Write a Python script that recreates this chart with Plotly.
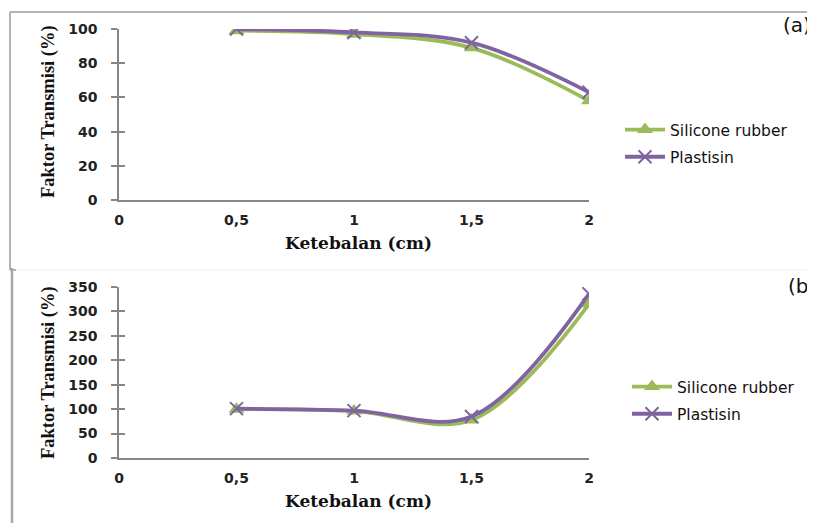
import plotly.graph_objects as go

# The page body adds an 8px margin, so the figure is sized to fill the
# remaining window and all screen positions are converted with that offset.
OFF = 8
W, H = 815 - OFF, 523 - OFF

# ---- data ----
thickness = [0.5, 1, 1.5, 2]
x_tick_vals = [0, 0.5, 1, 1.5, 2]
x_tick_text = ["0", "0,5", "1", "1,5", "2"]

a_silicone = [99, 97, 89, 58]
a_plastisin = [100, 98, 92, 63]
b_silicone = [100, 96, 78, 315]
b_plastisin = [101, 97, 85, 336]

a_y_ticks = [0, 20, 40, 60, 80, 100]
b_y_ticks = [0, 50, 100, 150, 200, 250, 300, 350]

series_names = ["Silicone rubber", "Plastisin"]
GREEN = "#9BBB59"
PURPLE = "#8064A2"
AXIS = "#868686"


def px(x):
    return (x - OFF) / W


def py(y):
    return 1 - (y - OFF) / H


TICK_FONT = dict(family="DejaVu Sans", size=14, color="#222222", weight="bold")
XTITLE_FONT = dict(family="DejaVu Serif", size=17, color="#111111", weight="bold")
YTITLE_FONT = dict(family="Liberation Serif", size=18.5, color="#111111", weight="bold")
LEG_FONT = dict(family="DejaVu Sans", size=15.5, color="#111111", weight=500)

fig = go.Figure()

panels = [
    dict(xa="x", ya="y", yo="y3", sil=a_silicone, pla=a_plastisin, legend="legend"),
    dict(xa="x2", ya="y2", yo="y4", sil=b_silicone, pla=b_plastisin, legend="legend2"),
]

for i, p in enumerate(panels):
    fig.add_trace(go.Scatter(
        x=thickness, y=p["sil"], xaxis=p["xa"], yaxis=p["ya"],
        mode="lines+markers", name=series_names[0], legend=p["legend"],
        legendgroup=f"s{i}",
        line=dict(color=GREEN, width=3.8, shape="spline", smoothing=1),
        marker=dict(symbol="triangle-up", size=14, color=GREEN),
    ))
    fig.add_trace(go.Scatter(
        x=thickness, y=p["pla"], xaxis=p["xa"], yaxis=p["ya"],
        mode="lines+markers", name=series_names[1], legend=p["legend"],
        legendgroup=f"p{i}",
        line=dict(color=PURPLE, width=3.8, shape="spline", smoothing=1),
        marker=dict(symbol="x-thin", size=13, line=dict(color=PURPLE, width=2)),
    ))
    # invisible trace on overlay axis (gives crossing tick marks)
    fig.add_trace(go.Scatter(
        x=thickness, y=p["sil"], xaxis=p["xa"], yaxis=p["yo"],
        mode="markers", marker=dict(opacity=0), showlegend=False, hoverinfo="skip",
    ))

xdom = [px(119), px(589)]
a_dom = [py(200), py(29)]
b_dom = [py(458), py(287)]

common_x = dict(range=[0, 2], tickvals=x_tick_vals, ticktext=x_tick_text,
                showgrid=False, zeroline=False, showline=True, linecolor=AXIS,
                linewidth=1.5, ticks="", tickfont=TICK_FONT, fixedrange=True,
                ticklabelstandoff=6, automargin=False)

common_y = dict(showgrid=False, zeroline=False, showline=True, linecolor=AXIS,
                linewidth=1.5, ticks="outside", ticklen=6, tickcolor=AXIS,
                tickwidth=1.5, tickfont=TICK_FONT, ticklabelstandoff=11,
                automargin=False)

common_yo = dict(showgrid=False, zeroline=False, showline=False, ticks="inside",
                 ticklen=6, tickcolor=AXIS, tickwidth=1.5, showticklabels=False,
                 automargin=False)

fig.update_layout(
    template="none",
    width=W, height=H,
    margin=dict(l=0, r=0, t=0, b=0, autoexpand=False),
    paper_bgcolor="white", plot_bgcolor="white",
    xaxis=dict(domain=xdom, anchor="y", **common_x),
    xaxis2=dict(domain=xdom, anchor="y2", **common_x),
    yaxis=dict(domain=a_dom, anchor="x", range=[0, 100], tickvals=a_y_ticks, **common_y),
    yaxis2=dict(domain=b_dom, anchor="x2", range=[0, 350], tickvals=b_y_ticks, **common_y),
    yaxis3=dict(overlaying="y", anchor="x", range=[0, 100], tickvals=a_y_ticks, **common_yo),
    yaxis4=dict(overlaying="y2", anchor="x2", range=[0, 350], tickvals=b_y_ticks, **common_yo),
    legend=dict(x=px(620), y=py(113), xanchor="left", yanchor="top",
                font=LEG_FONT, bgcolor="rgba(0,0,0,0)", tracegroupgap=4,
                itemwidth=40),
    legend2=dict(x=px(627), y=py(370), xanchor="left", yanchor="top",
                 font=LEG_FONT, bgcolor="rgba(0,0,0,0)", tracegroupgap=4,
                 itemwidth=40),
    showlegend=True,
)

# axis titles
for (tx, ty) in [(358, 243), (358, 501)]:
    fig.add_annotation(x=px(tx), y=py(ty), xref="paper", yref="paper",
                       xanchor="center", yanchor="middle",
                       text="Ketebalan (cm)", showarrow=False, font=XTITLE_FONT)
for (tx, ty) in [(48, 112), (48, 373)]:
    fig.add_annotation(x=px(tx), y=py(ty), xref="paper", yref="paper",
                       xanchor="center", yanchor="middle",
                       text="Faktor Transmisi (%)", showarrow=False,
                       textangle=-90, font=YTITLE_FONT)

# panel labels
fig.add_annotation(x=px(781), y=py(25), xref="paper", yref="paper", text="(a)",
                   showarrow=False, xanchor="left", yanchor="middle",
                   font=dict(family="DejaVu Sans", size=20, color="#111111"))
fig.add_annotation(x=px(786), y=py(286), xref="paper", yref="paper", text="(b)",
                   showarrow=False, xanchor="left", yanchor="middle",
                   font=dict(family="DejaVu Sans", size=20, color="#111111"))

# panel frames
BORDER = "#9a9a9a"
frames = [
    (10, 12, 815, 12, BORDER, 1.5),
    (10, 12, 10, 270, BORDER, 1.5),
    (10, 270, 16, 270, BORDER, 1.5),
    (16, 270, 815, 270, "#eeeeee", 1),
    (12, 268, 12, 523, "#a8a8a8", 2.5),
]
for x0, y0, x1, y1, c, w in frames:
    fig.add_shape(type="line", xref="paper", yref="paper",
                  x0=px(x0), y0=py(y0), x1=px(x1), y1=py(y1),
                  line=dict(color=c, width=w))

fig.write_html("out.html")
